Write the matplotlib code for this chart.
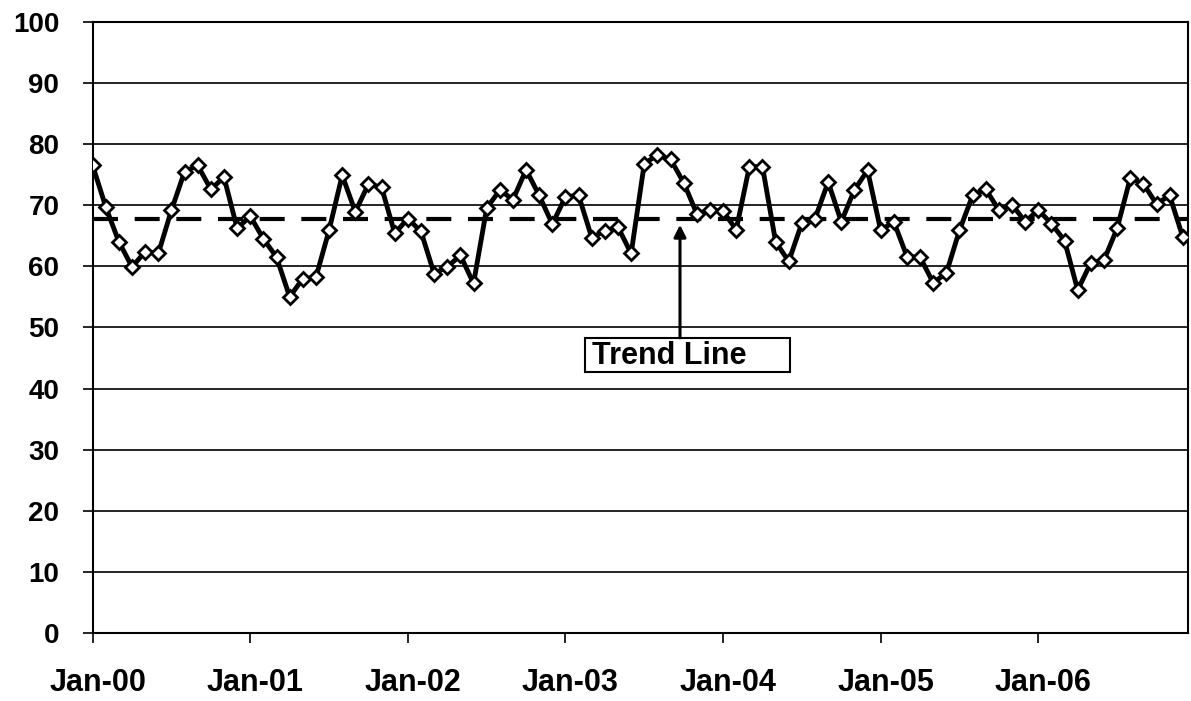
import pandas as pd
import matplotlib
matplotlib.use("Agg")
import matplotlib.pyplot as plt
import matplotlib.transforms as mtransforms
from matplotlib.patches import Rectangle

plt.rcParams['font.family'] = ['Liberation Sans', 'DejaVu Sans']
plt.rcParams['font.weight'] = 'bold'

# monthly values, Jan-00 .. Dec-06
months = pd.date_range('2000-01-01', periods=84, freq='MS')
values = [
    76.5, 69.7, 64.0, 59.9, 62.4, 62.1, 69.2, 75.5, 76.5, 72.6, 74.6, 66.2,
    68.2, 64.5, 61.5, 55.0, 58.0, 58.2, 65.9, 74.9, 68.9, 73.5, 72.9, 65.4,
    67.8, 65.7, 58.8, 59.9, 61.8, 57.2, 69.5, 72.5, 70.9, 75.8, 71.6, 66.9,
    71.4, 71.6, 64.7, 65.8, 66.4, 62.1, 76.8, 78.2, 77.5, 73.7, 68.6, 69.2,
    69.0, 66.0, 76.3, 76.3, 64.0, 60.8, 67.1, 67.8, 73.8, 67.3, 72.5, 75.7,
    65.9, 67.3, 61.6, 61.5, 57.3, 58.9, 65.9, 71.6, 72.6, 69.2, 70.1, 67.3,
    69.2, 67.0, 64.2, 56.1, 60.6, 61.0, 66.2, 74.4, 73.5, 70.2, 71.6, 64.8,
]
trend = 67.7
tick_labels = ['Jan-00', 'Jan-01', 'Jan-02', 'Jan-03', 'Jan-04', 'Jan-05', 'Jan-06']

x = list(range(len(months)))

fig = plt.figure(figsize=(11.91, 7.01), dpi=100)
ax = fig.add_axes([0.0778, 0.097, 0.9197, 0.8718])

# gridlines
for v in range(10, 101, 10):
    ax.axhline(v, color='black', lw=1.2, zorder=1)

ax.axhline(trend, color='black', lw=3, dashes=(6, 4), zorder=2)
ax.plot(x, values, color='black', lw=3.5, marker='D', markersize=7,
        markerfacecolor='white', markeredgecolor='black', markeredgewidth=2,
        zorder=3)

ax.set_xlim(0, 83.4)
ax.set_ylim(0, 100)
ax.set_yticks(range(0, 101, 10))
ax.set_xticks([i for i in x if months[i].month == 1])
ax.set_xticklabels(tick_labels)
ax.tick_params(axis='both', direction='out', length=7, width=1.2)
ax.tick_params(axis='y', pad=17, labelsize=20)
ax.tick_params(axis='x', pad=18, labelsize=22)
shift = mtransforms.ScaledTranslation(5 / 100, 0, fig.dpi_scale_trans)
for lbl in ax.get_xticklabels():
    lbl.set_fontweight('bold')
    lbl.set_transform(lbl.get_transform() + shift)
for lbl in ax.get_yticklabels():
    lbl.set_fontweight('bold')
for s in ax.spines.values():
    s.set_linewidth(1.5)

# trend line label
ax.add_patch(Rectangle((0.4495, 0.427), 0.187, 0.056, transform=ax.transAxes,
                       facecolor='white', edgecolor='black', lw=1.5, zorder=5))
ax.text(0.4555, 0.453, 'Trend Line', transform=ax.transAxes, fontsize=22,
        fontweight='bold', ha='left', va='center', zorder=6)
ax.annotate('', xy=(0.5362, 0.668), xytext=(0.5362, 0.483),
            xycoords='axes fraction', textcoords='axes fraction',
            arrowprops=dict(arrowstyle='-|>', lw=2.2, color='black',
                            mutation_scale=18, shrinkA=0, shrinkB=0),
            zorder=6)

plt.savefig('out.png', dpi=100)
